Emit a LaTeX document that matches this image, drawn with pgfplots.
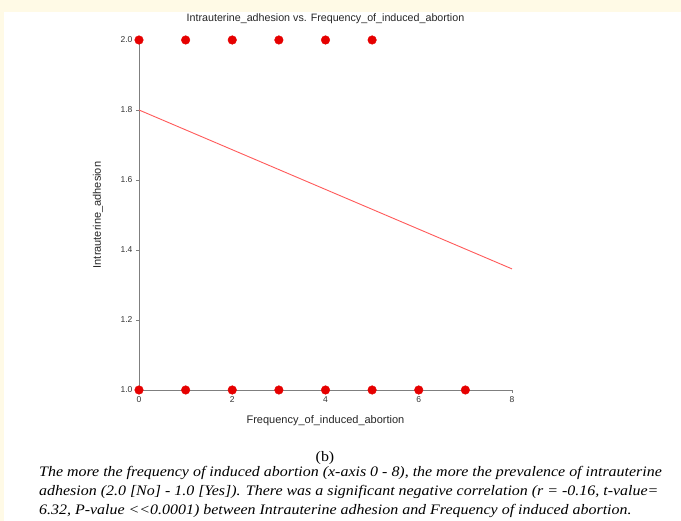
\documentclass[border=0pt]{standalone}
\usepackage{pgfplots}
\pgfplotsset{compat=1.18}
\usepackage{fontspec}
\setmainfont{Liberation Sans}
\newfontfamily\capfont{Liberation Serif}
\definecolor{cream}{HTML}{FFFAE6}
\definecolor{axgray}{HTML}{7F7F7F}
\definecolor{dotred}{HTML}{E60000}
\definecolor{linered}{HTML}{FF5A5A}
\begin{document}
\begin{tikzpicture}[x=1pt,y=1pt]
\clip (0,0) rectangle (681,521);
\fill[cream] (0,0) rectangle (681,521);
\fill[white] (4,0) rectangle (681,509);
\begin{axis}[
  at={(139pt,131pt)}, anchor=south west,
  scale only axis, width=373pt, height=350pt,
  xmin=0, xmax=8, ymin=1, ymax=2,
  clip=false,
  axis x line*=bottom, axis y line*=left,
  axis line style={draw=axgray, line width=0.9pt},
  xtick={0,2,4,6,8},
  ytick={1.0,1.2,1.4,1.6,1.8,2.0},
  yticklabel style={/pgf/number format/.cd, fixed, fixed zerofill, precision=1},
  tick align=outside, major tick length=3pt,
  tick style={draw=axgray, line width=0.8pt},
  minor tick num=0,
  ticklabel style={font=\fontsize{8.5}{9}\selectfont, text=black!80},
  /pgf/number format/assume math mode=true,
  title={Intrauterine\_adhesion vs. Frequency\_of\_induced\_abortion},
  title style={at={(axis description cs:0.5,1.043)}, anchor=center, font=\fontsize{10.7}{12}\selectfont, text=black!85},
  xlabel={Frequency\_of\_induced\_abortion},
  xlabel style={at={(axis description cs:0.5,-0.0886)}, anchor=center, font=\fontsize{11}{12}\selectfont, text=black!85},
  ylabel={Intrauterine\_adhesion},
  ylabel style={at={(axis description cs:-0.110,0.5)}, anchor=center, font=\fontsize{11}{12}\selectfont, text=black!85},
]
\addplot[linered, line width=0.9pt, no markers] coordinates {(0,1.8) (8,1.346)};
\addplot[only marks, mark=*, mark size=4.3pt, mark options={draw=dotred, fill=dotred}] coordinates {
  (0,2) (1,2) (2,2) (3,2) (4,2) (5,2)
  (0,1) (1,1) (2,1) (3,1) (4,1) (5,1) (6,1) (7,1)
};
\end{axis}
\node[font=\capfont\fontsize{14.5}{16}\selectfont, anchor=base] at (325,59) {\scalebox{1.1}[1]{(b)}};
\node[font=\capfont\itshape\fontsize{14.5}{16}\selectfont, anchor=base west, inner sep=0pt] at (39,44) {\scalebox{1.1}[1]{The more the frequency of induced abortion (x-axis 0 - 8), the more the prevalence of intrauterine}};
\node[font=\capfont\itshape\fontsize{14.5}{16}\selectfont, anchor=base west, inner sep=0pt] at (39,25) {\scalebox{1.1}[1]{adhesion (2.0 [No] - 1.0 [Yes]). There was a significant negative correlation (r = -0.16, t-value=}};
\node[font=\capfont\itshape\fontsize{14.5}{16}\selectfont, anchor=base west, inner sep=0pt] at (39,6) {\scalebox{1.1}[1]{6.32, P-value <<0.0001) between Intrauterine adhesion and Frequency of induced abortion.}};
\end{tikzpicture}
\end{document}
